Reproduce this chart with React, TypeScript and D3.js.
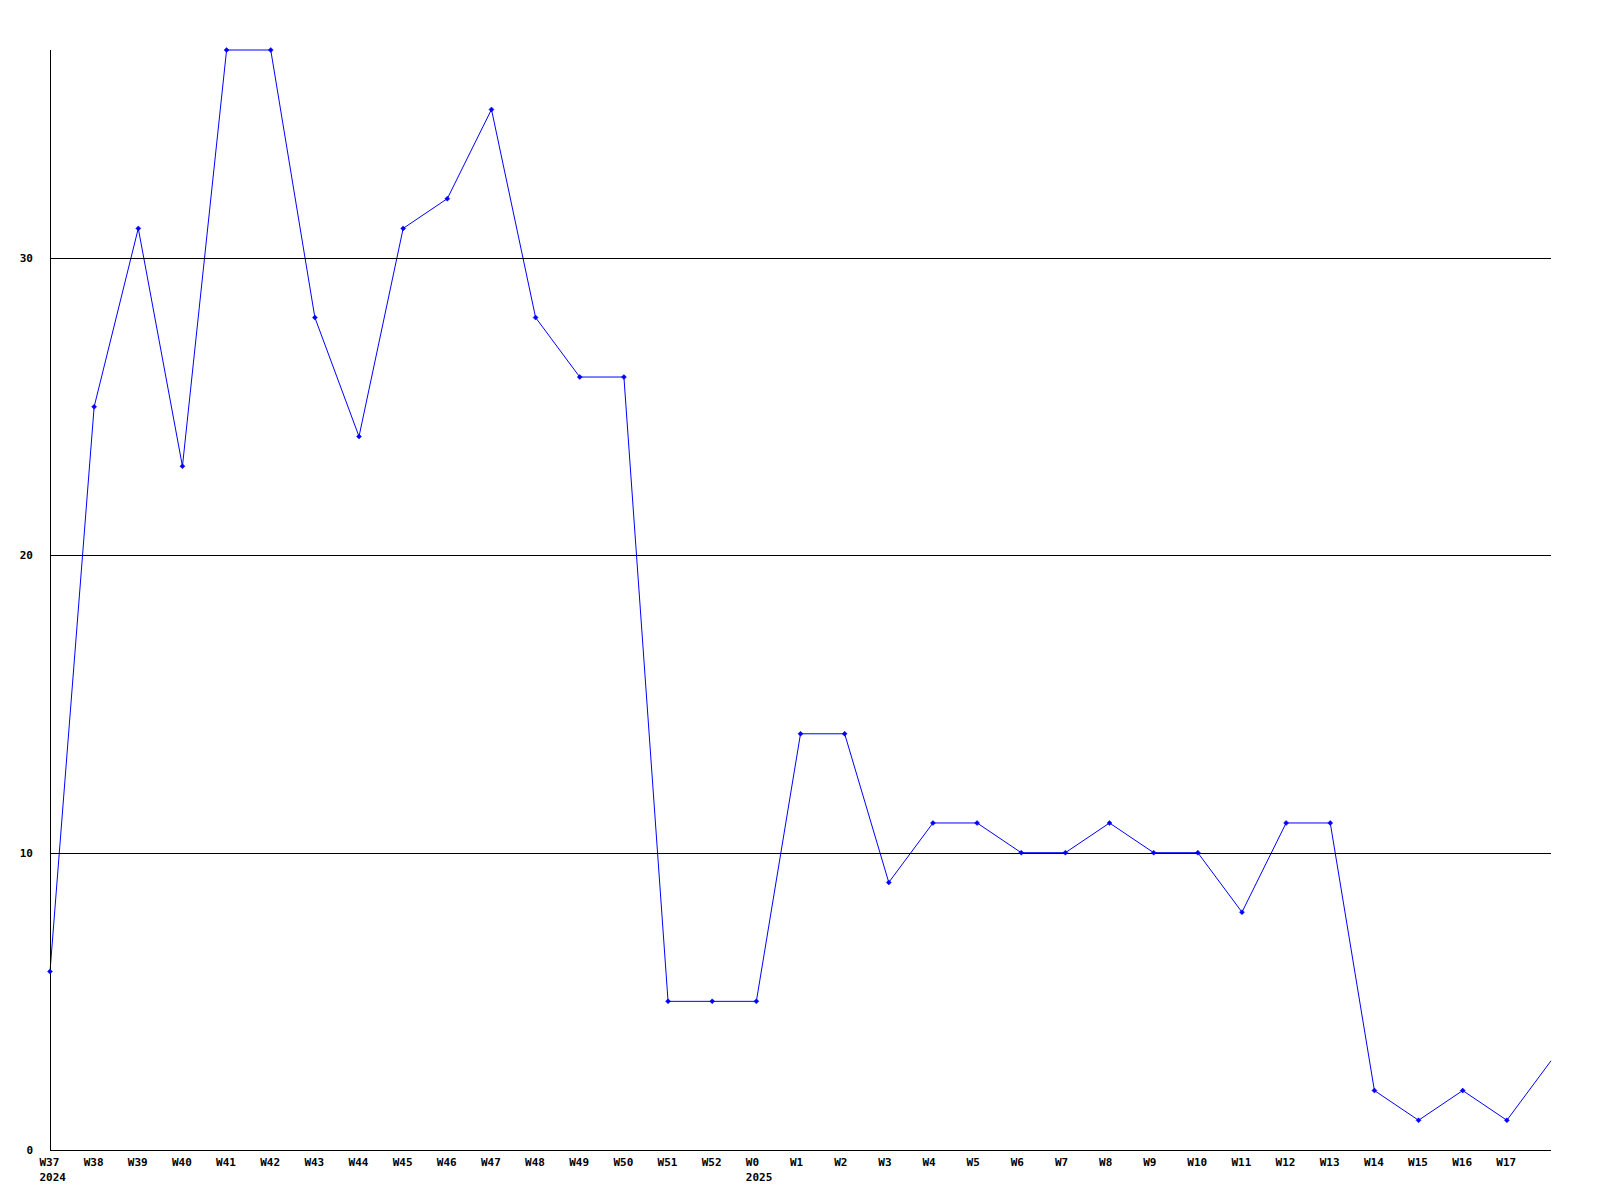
import React from "react";
import * as d3 from "d3";

const weeks = ["W37","W38","W39","W40","W41","W42","W43","W44","W45","W46","W47","W48","W49","W50","W51","W52","W0","W1","W2","W3","W4","W5","W6","W7","W8","W9","W10","W11","W12","W13","W14","W15","W16","W17","W18"];
const values = [6,25,31,23,37,37,28,24,31,32,35,28,26,26,5,5,5,14,14,9,11,11,10,10,11,10,10,8,11,11,2,1,2,1,3];
const labeledWeeks = weeks.slice(0, 34);
const yearLabels: [string, string][] = [["W37", "2024"], ["W0", "2025"]];
const yTicks = [0, 10, 20, 30];

export default function App() {
  const left = 50, right = 1551, top = 50, bottom = 1150;
  const x = d3.scalePoint<string>().domain(weeks).range([left, right]);
  const y = d3.scaleLinear().domain([0, 37]).range([bottom, top]);
  const line = d3.line<number>().x((_, i) => x(weeks[i])!).y((d) => y(d));
  const font = "'DejaVu Sans Mono', monospace";
  return (
    <svg width={1600} height={1200} style={{ position: "absolute", left: 0, top: 0, background: "#fff" }}>
      <rect x={0} y={0} width={1600} height={1200} fill="#fff" />
      <path d={line(values) || ""} fill="none" stroke="#0000ff" strokeWidth={1} />
      {yTicks.filter((t) => t > 0).map((t) => (
        <line key={t} x1={left} x2={right} y1={Math.round(y(t)) + 0.5} y2={Math.round(y(t)) + 0.5} stroke="#000" strokeWidth={1} />
      ))}
      <line x1={left + 0.5} x2={left + 0.5} y1={top} y2={bottom} stroke="#000" />
      <line x1={left} x2={right} y1={bottom + 0.5} y2={bottom + 0.5} stroke="#000" />
      {yTicks.map((t) => (
        <text key={t} x={33} y={y(t)} dy="0.35em" textAnchor="end" fontFamily={font} fontWeight="bold" fontSize={11} fill="#000">{t}</text>
      ))}
      {labeledWeeks.map((w) => (
        <text key={w} x={x(w)! - 10.5} y={1166} textAnchor="start" fontFamily={font} fontWeight="bold" fontSize={11} fill="#000">{w}</text>
      ))}
      {yearLabels.map(([w, yr]) => (
        <text key={yr} x={x(w)! - 10.5} y={1181} textAnchor="start" fontFamily={font} fontWeight="bold" fontSize={11} fill="#000">{yr}</text>
      ))}
      {values.slice(0, 34).map((v, i) => {
        const cx = x(weeks[i])!, cy = y(v);
        return (
          <path key={i} d={`M${cx - 2.5},${cy}L${cx},${cy - 2.5}L${cx + 2.5},${cy}L${cx},${cy + 2.5}Z`} fill="#0000ff" stroke="#0000ff" strokeWidth={0.5} />
        );
      })}
    </svg>
  );
}
